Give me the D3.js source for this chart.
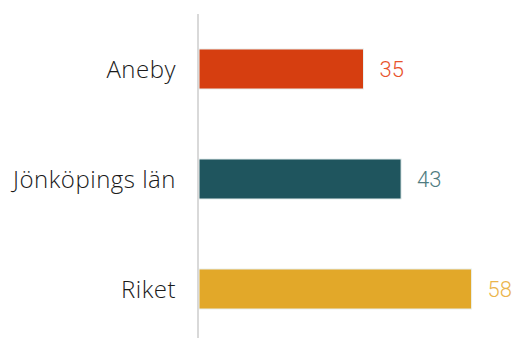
<!DOCTYPE html>
<html>
<head>
<meta charset="utf-8">
<script src="https://cdn.jsdelivr.net/npm/d3@7"></script>
<style>
  html, body { margin: 0; padding: 0; background: #fff; }
  svg { display: block; }
</style>
</head>
<body>
<svg id="chart" width="515" height="338"></svg>
<script>
// Categories and their values
const categories = ["Aneby", "Jönköpings län", "Riket"];
const values = [35, 43, 58];
const barColors = ["#d63e10", "#1f555e", "#e2a829"];
const labelColors = ["#e8532c", "#4f7c81", "#ebb54c"];

const svg = d3.select("#chart");

const x = d3.scaleLinear().domain([0, 60]).range([199, 481]);
const y = d3.scaleBand()
  .domain(categories)
  .range([14, 344])
  .paddingInner(0.636)
  .paddingOuter(0.318);

// Bars
svg.selectAll("rect.bar")
  .data(categories)
  .join("rect")
  .attr("class", "bar")
  .attr("x", x(0))
  .attr("y", d => y(d))
  .attr("width", (d, i) => x(values[i]) - x(0))
  .attr("height", y.bandwidth())
  .attr("fill", (d, i) => barColors[i])
  .attr("stroke", "#e9f1f0")
  .attr("stroke-width", 1);

// Vertical axis line
svg.append("line")
  .attr("x1", 198).attr("x2", 198)
  .attr("y1", 14).attr("y2", 338)
  .attr("stroke", "#d9d9d9")
  .attr("stroke-width", 2);

// Category labels
svg.selectAll("text.cat")
  .data(categories)
  .join("text")
  .attr("class", "cat")
  .attr("x", 176)
  .attr("y", d => y(d) + y.bandwidth() / 2)
  .attr("dy", "0.36em")
  .attr("text-anchor", "end")
  .attr("font-family", "'Open Sans', sans-serif")
  .attr("font-weight", 300)
  .attr("font-size", 24)
  .attr("letter-spacing", 0.5)
  .attr("fill", "#1a1a1a")
  .text(d => d);

// Value labels
svg.selectAll("text.val")
  .data(categories)
  .join("text")
  .attr("class", "val")
  .attr("x", (d, i) => x(values[i]) + 16)
  .attr("y", d => y(d) + y.bandwidth() / 2)
  .attr("dy", "0.36em")
  .attr("font-family", "Roboto, sans-serif")
  .attr("font-weight", 300)
  .attr("font-size", 22)
  .attr("fill", (d, i) => labelColors[i])
  .text((d, i) => values[i]);
</script>
</body>
</html>
